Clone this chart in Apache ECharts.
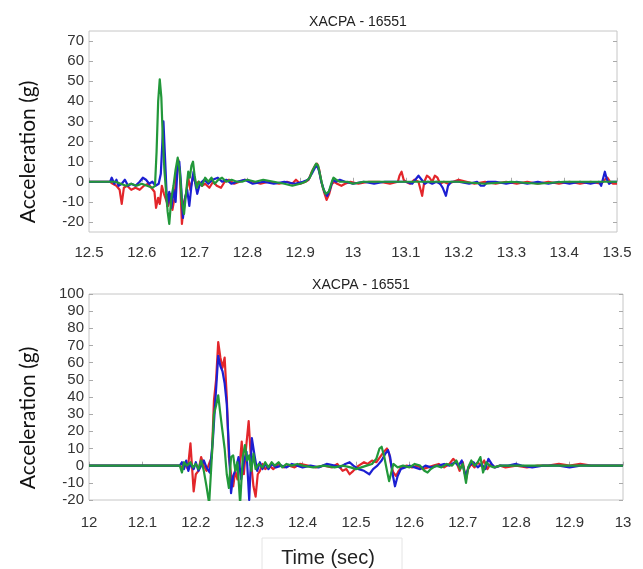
<!DOCTYPE html>
<html>
<head>
<meta charset="utf-8">
<script src="https://cdn.jsdelivr.net/npm/echarts@6/dist/echarts.min.js"></script>
<style>
  html, body { margin: 0; padding: 0; background: #fff; }
  #chart { width: 643px; height: 569px; }
</style>
</head>
<body>
<div id="chart"></div>
<script>
// tick labels
const topXTicks = [12.5, 12.6, 12.7, 12.8, 12.9, 13, 13.1, 13.2, 13.3, 13.4, 13.5];
const topYTicks = [-20, -10, 0, 10, 20, 30, 40, 50, 60, 70];
const botXTicks = [12, 12.1, 12.2, 12.3, 12.4, 12.5, 12.6, 12.7, 12.8, 12.9, 13];
const botYTicks = [-20, -10, 0, 10, 20, 30, 40, 50, 60, 70, 80, 90, 100];

// top plot: [time, g]
const topRed = [[12.5,0],[12.54,0],[12.545,-1],[12.552,-2],[12.558,-4],[12.562,-11],[12.566,-3],[12.572,-2],[12.58,-4],[12.588,-3],[12.596,-4],[12.604,-2],[12.612,-1],[12.618,-3],[12.624,-5],[12.627,-13],[12.631,-8],[12.634,-11],[12.638,-2],[12.642,-6],[12.646,-9],[12.65,-12],[12.655,-6],[12.658,-14],[12.662,-8],[12.666,6],[12.669,11],[12.672,4],[12.676,-21],[12.68,-10],[12.684,-6],[12.688,2],[12.692,-4],[12.697,3],[12.702,-1],[12.708,0],[12.714,-2],[12.72,-1],[12.728,-3],[12.735,0],[12.742,-2],[12.75,-3],[12.757,0],[12.765,1],[12.775,-1],[12.785,0],[12.795,1],[12.81,0],[12.825,-1],[12.84,0],[12.86,-1],[12.875,0],[12.885,-1],[12.892,1],[12.9,-1],[12.91,0],[12.916,1],[12.922,5],[12.928,8],[12.932,9],[12.936,6],[12.94,0],[12.945,-5],[12.95,-9],[12.955,-6],[12.96,-1],[12.965,0],[12.97,-1],[12.978,-2],[12.985,-1],[12.995,0],[13.01,-1],[13.03,0],[13.05,0],[13.07,-1],[13.085,0],[13.088,3],[13.092,5],[13.096,1],[13.1,0],[13.108,-1],[13.116,1],[13.124,0],[13.128,-4],[13.131,-7],[13.135,0],[13.14,3],[13.145,2],[13.15,0],[13.155,3],[13.16,2],[13.165,-1],[13.172,0],[13.18,-1],[13.19,0],[13.2,1],[13.215,0],[13.23,-1],[13.25,0],[13.27,-1],[13.29,0],[13.31,-1],[13.33,0],[13.35,-1],[13.37,0],[13.39,-1],[13.41,0],[13.43,-1],[13.45,0],[13.47,-1],[13.477,1],[13.482,2],[13.487,0],[13.493,-1],[13.5,-1]];
const topBlue = [[12.5,0],[12.54,0],[12.543,2],[12.548,-1],[12.552,1],[12.556,-2],[12.562,-1],[12.568,1],[12.574,-2],[12.58,-1],[12.588,-2],[12.596,0],[12.602,2],[12.608,1],[12.614,-1],[12.62,0],[12.626,-2],[12.632,-1],[12.636,4],[12.639,20],[12.641,30],[12.644,12],[12.648,-12],[12.652,-5],[12.656,-13],[12.66,-4],[12.664,-10],[12.668,8],[12.671,10],[12.674,0],[12.678,-18],[12.682,-8],[12.686,-4],[12.69,-12],[12.694,-2],[12.698,5],[12.702,-2],[12.705,-6],[12.71,-1],[12.718,1],[12.726,-1],[12.734,1],[12.744,2],[12.752,0],[12.76,1],[12.77,-1],[12.78,0],[12.795,1],[12.81,-1],[12.83,0],[12.85,-1],[12.87,0],[12.89,-1],[12.905,0],[12.915,1],[12.922,4],[12.928,7],[12.932,8],[12.936,5],[12.94,0],[12.946,-5],[12.951,-7],[12.956,-4],[12.962,1],[12.968,0],[12.975,1],[12.985,0],[13.0,-1],[13.02,0],[13.04,-1],[13.06,0],[13.08,0],[13.1,0],[13.112,-1],[13.118,1],[13.124,3],[13.13,1],[13.136,-1],[13.142,0],[13.15,-1],[13.158,0],[13.165,-1],[13.17,-3],[13.176,-7],[13.18,-2],[13.186,0],[13.2,0],[13.22,-1],[13.235,0],[13.242,-2],[13.248,-2],[13.255,0],[13.27,0],[13.29,-1],[13.31,0],[13.33,-1],[13.35,0],[13.37,-1],[13.39,0],[13.41,-1],[13.43,0],[13.45,-1],[13.466,0],[13.47,-2],[13.474,2],[13.477,5],[13.481,1],[13.485,-1],[13.49,0],[13.5,0]];
const topGreen = [[12.5,0],[12.55,0],[12.56,-1],[12.57,-2],[12.58,-1],[12.59,-2],[12.6,-1],[12.61,-2],[12.62,-3],[12.625,-2],[12.628,15],[12.631,40],[12.634,51],[12.637,42],[12.64,20],[12.643,5],[12.646,-5],[12.649,-15],[12.652,-21],[12.656,-8],[12.66,-2],[12.664,6],[12.668,12],[12.672,5],[12.676,-10],[12.68,-16],[12.684,-5],[12.688,5],[12.691,2],[12.694,8],[12.697,10],[12.7,3],[12.704,-3],[12.708,0],[12.714,-2],[12.72,2],[12.726,0],[12.732,2],[12.738,-1],[12.745,1],[12.752,2],[12.76,0],[12.77,1],[12.78,0],[12.79,0],[12.8,1],[12.815,0],[12.83,1],[12.85,0],[12.87,-1],[12.885,-2],[12.9,-1],[12.91,0],[12.918,2],[12.924,6],[12.93,9],[12.934,8],[12.938,3],[12.943,-3],[12.948,-6],[12.954,-5],[12.96,0],[12.963,2],[12.968,1],[12.975,0],[12.99,0],[13.0,-1],[13.02,0],[13.05,0],[13.08,0],[13.1,0],[13.13,0],[13.16,0],[13.2,0],[13.25,-1],[13.3,0],[13.35,-1],[13.4,0],[13.45,0],[13.5,0]];

// bottom plot: [time, g]
const botRed = [[12,0],[12.17,0],[12.175,-1],[12.18,1],[12.185,-2],[12.19,13],[12.196,-15],[12.2,-5],[12.205,-3],[12.21,5],[12.215,0],[12.22,-3],[12.226,2],[12.23,5],[12.234,38],[12.238,50],[12.242,72],[12.246,63],[12.25,57],[12.254,63],[12.258,40],[12.262,5],[12.266,-5],[12.27,-12],[12.274,-3],[12.278,-8],[12.282,0],[12.286,14],[12.29,-5],[12.294,10],[12.299,26],[12.304,0],[12.308,-12],[12.312,-18],[12.316,-5],[12.32,-3],[12.325,1],[12.33,-2],[12.338,0],[12.345,-2],[12.355,1],[12.365,-1],[12.375,0],[12.385,-1],[12.395,1],[12.41,0],[12.425,-1],[12.44,0],[12.455,-1],[12.465,1],[12.475,-3],[12.482,-2],[12.488,-5],[12.495,-3],[12.505,0],[12.515,2],[12.522,1],[12.53,3],[12.538,2],[12.545,5],[12.552,8],[12.558,10],[12.562,7],[12.566,0],[12.57,-4],[12.575,-6],[12.58,-3],[12.585,-1],[12.595,0],[12.605,-1],[12.615,0],[12.625,-2],[12.635,-1],[12.645,0],[12.655,1],[12.665,-1],[12.675,1],[12.682,4],[12.688,2],[12.694,-3],[12.7,2],[12.706,-8],[12.71,-2],[12.716,1],[12.722,-1],[12.728,2],[12.734,0],[12.74,3],[12.746,-2],[12.752,1],[12.76,-1],[12.77,0],[12.78,-1],[12.8,0],[12.82,-1],[12.84,0],[12.86,0],[12.88,1],[12.9,0],[12.92,1],[12.94,0],[12.96,0],[12.98,0],[13,0]];
const botBlue = [[12,0],[12.17,0],[12.174,2],[12.178,-2],[12.182,3],[12.186,-3],[12.19,1],[12.196,-2],[12.2,2],[12.205,-3],[12.21,0],[12.215,3],[12.22,-1],[12.226,-4],[12.232,15],[12.236,35],[12.242,64],[12.246,58],[12.25,55],[12.254,48],[12.258,36],[12.262,10],[12.266,-16],[12.27,-6],[12.275,-2],[12.28,5],[12.285,-8],[12.29,2],[12.295,8],[12.3,-20],[12.305,16],[12.31,6],[12.315,-3],[12.32,2],[12.325,-2],[12.33,1],[12.336,-2],[12.342,1],[12.35,-1],[12.36,0],[12.37,-1],[12.38,1],[12.39,0],[12.4,-1],[12.415,0],[12.43,-1],[12.445,1],[12.46,0],[12.47,-1],[12.48,1],[12.488,2],[12.495,0],[12.505,-2],[12.515,-3],[12.525,-5],[12.532,-2],[12.54,0],[12.548,3],[12.555,7],[12.56,9],[12.564,5],[12.568,-4],[12.573,-12],[12.578,-6],[12.584,-2],[12.592,-1],[12.6,0],[12.61,-1],[12.62,-2],[12.63,0],[12.64,-1],[12.655,0],[12.665,1],[12.675,0],[12.685,2],[12.692,0],[12.698,3],[12.705,-6],[12.712,0],[12.72,2],[12.728,-1],[12.735,1],[12.742,-2],[12.748,4],[12.754,1],[12.76,-1],[12.77,0],[12.785,0],[12.8,1],[12.81,0],[12.83,-1],[12.85,0],[12.88,0],[12.9,-1],[12.92,0],[12.95,0],[13,0]];
const botGreen = [[12,0],[12.17,0],[12.174,-4],[12.178,2],[12.183,0],[12.19,2],[12.195,-1],[12.2,1],[12.205,-2],[12.21,3],[12.215,-3],[12.22,-12],[12.225,-22],[12.23,5],[12.234,30],[12.238,35],[12.242,41],[12.246,30],[12.25,20],[12.254,10],[12.258,-5],[12.262,-13],[12.266,5],[12.27,6],[12.274,-3],[12.278,2],[12.283,-22],[12.288,5],[12.292,12],[12.296,3],[12.3,6],[12.304,-3],[12.308,7],[12.312,-2],[12.318,1],[12.325,-1],[12.33,2],[12.336,-1],[12.342,2],[12.348,0],[12.355,2],[12.362,-1],[12.37,1],[12.38,0],[12.39,1],[12.4,0],[12.42,-1],[12.44,0],[12.46,-1],[12.475,0],[12.49,-1],[12.5,-2],[12.51,-1],[12.52,0],[12.53,1],[12.538,4],[12.544,10],[12.548,11],[12.553,5],[12.558,-3],[12.562,-9],[12.566,-4],[12.57,1],[12.578,-1],[12.588,0],[12.6,-1],[12.61,1],[12.62,0],[12.628,-3],[12.634,-4],[12.64,-2],[12.65,0],[12.66,-1],[12.67,1],[12.68,0],[12.688,3],[12.695,-2],[12.7,1],[12.706,-10],[12.71,-1],[12.716,3],[12.722,0],[12.728,2],[12.733,5],[12.738,-4],[12.744,2],[12.75,0],[12.758,-1],[12.77,0],[12.79,0],[12.81,0],[12.85,0],[12.9,0],[12.95,0],[13,0]];

const RED = '#e3262b';
const BLUE = '#1c1fd2';
const GREEN = '#22983a';

const tickFont = { fontFamily: 'Liberation Sans', fontSize: 15, color: '#333' };
const fmt = v => String(+(+v).toFixed(1));

function xAxis(gridIndex, min, max, ticks, margin) {
  return {
    type: 'value', gridIndex, min, max,
    axisLine: { show: false },
    splitLine: { show: false },
    axisTick: { inside: true, length: 4, lineStyle: { color: '#aaa' }, customValues: ticks },
    axisLabel: Object.assign({ margin, formatter: fmt, customValues: ticks }, tickFont)
  };
}

function yAxis(gridIndex, min, max, ticks, right) {
  return {
    type: 'value', gridIndex, min, max,
    position: right ? 'right' : 'left',
    axisLine: { show: false },
    splitLine: { show: false },
    axisTick: { inside: true, length: 4, lineStyle: { color: '#aaa' }, customValues: ticks },
    axisLabel: Object.assign({ show: !right, margin: 5, customValues: ticks }, tickFont)
  };
}

function line(data, color, xi, yi) {
  return {
    type: 'line', data, xAxisIndex: xi, yAxisIndex: yi,
    showSymbol: false, symbol: 'none', clip: true,
    lineStyle: { color, width: 2.2, join: 'round' }
  };
}

const chart = echarts.init(document.getElementById('chart'));
chart.setOption({
  animation: false,
  backgroundColor: '#fff',
  title: [
    { text: 'XACPA - 16551', left: 353, top: 10, textAlign: 'center',
      textStyle: { fontFamily: 'Liberation Sans', fontSize: 14, fontWeight: 'normal', color: '#222' } },
    { text: 'XACPA - 16551', left: 356, top: 273, textAlign: 'center',
      textStyle: { fontFamily: 'Liberation Sans', fontSize: 14, fontWeight: 'normal', color: '#222' } }
  ],
  grid: [
    { left: 89, top: 31, width: 528, height: 201, show: true, borderColor: '#c6c6c6', borderWidth: 1 },
    { left: 89, top: 294, width: 534, height: 206, show: true, borderColor: '#c6c6c6', borderWidth: 1 }
  ],
  xAxis: [
    xAxis(0, 12.5, 13.5, topXTicks, 13),
    xAxis(1, 12, 13, botXTicks, 15)
  ],
  yAxis: [
    yAxis(0, -25, 75, topYTicks, false),
    yAxis(0, -25, 75, topYTicks, true),
    yAxis(1, -20, 100, botYTicks, false),
    yAxis(1, -20, 100, botYTicks, true)
  ],
  graphic: [
    { type: 'text', x: 28, y: 152, rotation: Math.PI / 2,
      style: { text: 'Acceleration (g)', fontFamily: 'Lato', fontSize: 21, fill: '#111', align: 'center', verticalAlign: 'middle' } },
    { type: 'text', x: 28, y: 418, rotation: Math.PI / 2,
      style: { text: 'Acceleration (g)', fontFamily: 'Lato', fontSize: 21, fill: '#111', align: 'center', verticalAlign: 'middle' } },
    { type: 'rect', shape: { x: 262, y: 538, width: 140, height: 40 },
      style: { fill: '#fff', stroke: '#e4e4e4', lineWidth: 1 } },
    { type: 'text', x: 328, y: 558,
      style: { text: 'Time (sec)', fontFamily: 'Liberation Sans', fontSize: 20, fill: '#222', align: 'center', verticalAlign: 'middle' } }
  ],
  series: [
    line(topRed, RED, 0, 0),
    line(topBlue, BLUE, 0, 0),
    line(topGreen, GREEN, 0, 0),
    line(botRed, RED, 1, 2),
    line(botBlue, BLUE, 1, 2),
    line(botGreen, GREEN, 1, 2)
  ]
});
</script>
</body>
</html>
